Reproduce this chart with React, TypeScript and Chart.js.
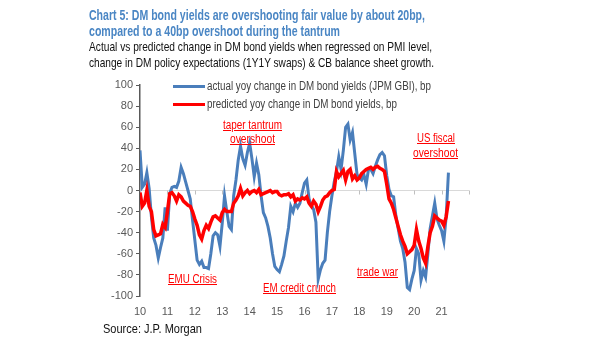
import React, { useEffect, useLayoutEffect, useRef } from "react";
import { Chart, registerables } from "chart.js";

Chart.register(...registerables);

// ---------- DATA (monthly, starting Jan 2010) ----------
const START_YEAR = 2010;

const actualYoy = [
  38, 3, 6, 17, 2, -25, -45, -52, -64, -54,
  -45, -16, -38, -3, 3, 4, 3, 9, 22, 16,
  8, 0, -8, -28, -47, -66, -70, -67, -73, -73,
  -74, -60, -43, -40, -42, -53, -31, -5, -20, -34,
  -37, -5, 10, 29, 42, 30, 24, 36, 45, 30,
  13, 26, 15, -5, -21, -26, -34, -45, -60, -72,
  -75, -77, -70, -62, -48, -35, -15, -20, -12, -16,
  -12, -2, 7, 10, -8, -14, -18, -30, -84, -75,
  -69, -66, -40, -20, -5, 8, 18, 32, 20, 38,
  60, 63, 48, 55, 35, 15, 12, 10, 15, 6,
  20, 20, 16, 23, 29, 34, 36, 33, 14, 1,
  -5, -6, -24, -36, -48, -55, -68, -92, -94, -84,
  -76, -55, -60, -85, -76, -82, -60, -36, -24, -12,
  -27, -33, -38, -48, -25, 17,
];

const predictedYoy = [
  -2, -15, -12, 0, -15, -20, -37, -43, -42, -41,
  -32, -35, -20, -3, -2, -5, -10, -4, -6, -10,
  -12, -14, -15, -20, -27, -33, -42, -46, -38, -33,
  -36, -30, -25, -24, -26, -28, -21, -18, -20, -20,
  -20, -12, -9, -5, 2, -5, -2, 0, -3, -1,
  0, -2, 1, -4, -3, -2, -1, 0, -2, -1,
  -1, -4, -5, -4, -4, -3, -6, -4, -10, -8,
  -9, -7, -8, -6, -12, -15, -10, -13, -20, -15,
  -9, -6, -5, -2, 0, 1, 18, 13, 16, 19,
  10, 18, 20, 11, 14, 10, 12, 16, 18, 20,
  21, 22, 20, 22, 23, 21, 20, 18, 6, -8,
  -12, -18, -26, -34, -42, -48, -53, -60, -58, -56,
  -52, -37, -48, -55, -64, -69, -53, -40, -34, -24,
  -26, -28, -29, -33, -25, -10,
];

const xTickYears = [2010, 2011, 2012, 2013, 2014, 2015, 2016, 2017, 2018, 2019, 2020, 2021];
const yTickValues = [-100, -80, -60, -40, -20, 0, 20, 40, 60, 80, 100];

const seriesLabels = [
  "actual yoy change in DM bond yields (JPM GBI), bp",
  "predicted yoy change in DM bond yields, bp",
];

const titleLines = [
  "Chart 5: DM bond yields are overshooting fair value by about 20bp,",
  "compared to a 40bp overshoot during the tantrum",
];
const subtitleLines = [
  "Actual vs predicted change in DM bond yields when regressed on PMI level,",
  "change in DM policy expectations (1Y1Y swaps) & CB balance sheet growth.",
];
const sourceText = "Source: J.P. Morgan";

// ---------- STYLE ----------
const FONT = '"Liberation Sans", Arial, Helvetica, sans-serif';
const BLUE = "#4a7ebb";
const RED = "#ff0000";
const TITLE_BLUE = "#4a86c4";
const AXIS_GRAY = "#595959";

type FitProps = {
  text: string;
  x: number;
  cy: number;
  w: number;
  size: number;
  color: string;
  bold?: boolean;
  underline?: boolean;
  center?: boolean;
};

function FitText({ text, x, cy, w, size, color, bold, underline, center }: FitProps) {
  const ref = useRef<HTMLSpanElement>(null);
  useLayoutEffect(() => {
    const el = ref.current;
    if (!el) return;
    el.style.transform = "none";
    const natural = el.getBoundingClientRect().width;
    if (natural > 0) el.style.transform = `scaleX(${w / natural})`;
  }, [text, w, size]);
  const lh = Math.round(size * 1.2);
  return (
    <span
      ref={ref}
      style={{
        position: "absolute",
        left: center ? x - w / 2 : x,
        top: cy - lh / 2,
        whiteSpace: "nowrap",
        fontFamily: FONT,
        fontSize: size,
        lineHeight: `${lh}px`,
        fontWeight: bold ? "bold" : "normal",
        color,
        textDecoration: underline ? "underline" : "none",
        transformOrigin: "left center",
      }}
    >
      {text}
    </span>
  );
}

const zeroTicks = {
  id: "zeroTicks",
  beforeDatasetsDraw(chart: any) {
    const xs = chart.scales.x;
    const ys = chart.scales.y;
    const ctx = chart.ctx;
    const y0 = ys.getPixelForValue(0);
    ctx.save();
    ctx.strokeStyle = "#bfbfbf";
    ctx.lineWidth = 1;
    for (let yr = xs.min; yr <= xs.max; yr++) {
      const px = Math.round(xs.getPixelForValue(yr)) + 0.5;
      ctx.beginPath();
      ctx.moveTo(px, y0);
      ctx.lineTo(px, y0 + 4);
      ctx.stroke();
    }
    ctx.restore();
  },
};

export default function App() {
  const canvasRef = useRef<HTMLCanvasElement>(null);

  useEffect(() => {
    const canvas = canvasRef.current;
    if (!canvas) return;
    const toPoints = (arr: number[]) => arr.map((v, i) => ({ x: START_YEAR + i / 12, y: v }));
    const chart = new Chart(canvas, {
      type: "line",
      data: {
        datasets: [
          {
            label: seriesLabels[0],
            data: toPoints(actualYoy),
            borderColor: BLUE,
            backgroundColor: BLUE,
            borderWidth: 3,
            pointRadius: 0,
            tension: 0,
            order: 2,
          },
          {
            label: seriesLabels[1],
            data: toPoints(predictedYoy),
            borderColor: RED,
            backgroundColor: RED,
            borderWidth: 3.5,
            pointRadius: 0,
            tension: 0,
            order: 1,
          },
        ],
      },
      options: {
        animation: false,
        responsive: false,
        events: [],
        layout: { padding: { left: 0, top: 85, right: 136, bottom: 0 } },
        plugins: { legend: { display: false }, tooltip: { enabled: false } },
        scales: {
          x: {
            type: "linear",
            min: 2010,
            max: 2022,
            afterBuildTicks: (s: any) => {
              s.ticks = xTickYears.map((v) => ({ value: v }));
            },
            ticks: {
              callback: (v: any) => String(v).slice(2),
              color: AXIS_GRAY,
              font: { family: FONT, size: 11 },
              padding: 9,
              maxRotation: 0,
              autoSkip: false,
            },
            grid: { display: false, drawTicks: false },
            border: { display: false },
            afterFit: (s: any) => {
              s.height = 45;
            },
          },
          y: {
            min: -100,
            max: 100,
            afterBuildTicks: (s: any) => {
              s.ticks = yTickValues.map((v) => ({ value: v }));
            },
            ticks: {
              color: AXIS_GRAY,
              font: { family: FONT, size: 11 },
              padding: 3,
            },
            grid: {
              color: (c: any) => (c.tick && c.tick.value === 0 ? "#d9d9d9" : "rgba(0,0,0,0)"),
              tickColor: AXIS_GRAY,
              tickLength: 4,
              lineWidth: 1,
            },
            border: { color: AXIS_GRAY, width: 1.5 },
            afterFit: (s: any) => {
              s.width = 140;
            },
          },
        },
      },
      plugins: [zeroTicks],
    });
    return () => chart.destroy();
  }, []);

  return (
    <div
      style={{
        position: "absolute",
        left: 0,
        top: 0,
        width: 605,
        height: 341,
        background: "#ffffff",
        overflow: "hidden",
      }}
    >
      <canvas
        ref={canvasRef}
        width={605}
        height={341}
        style={{ position: "absolute", left: 0, top: 0, width: 605, height: 341 }}
      />
      <FitText text={titleLines[0]} x={89} cy={15} w={336} size={15} color={TITLE_BLUE} bold />
      <FitText text={titleLines[1]} x={89} cy={31} w={251} size={15} color={TITLE_BLUE} bold />
      <FitText text={subtitleLines[0]} x={89} cy={47} w={343} size={13} color="#111111" />
      <FitText text={subtitleLines[1]} x={89} cy={63} w={345} size={13} color="#111111" />

      {/* legend */}
      <div style={{ position: "absolute", left: 173, top: 84.5, width: 32, height: 3, background: BLUE }} />
      <div style={{ position: "absolute", left: 173, top: 102.5, width: 32, height: 3.5, background: RED }} />
      <FitText text={seriesLabels[0]} x={207} cy={86} w={224} size={12} color="#404040" />
      <FitText text={seriesLabels[1]} x={207} cy={104} w={190} size={12} color="#404040" />

      {/* annotations */}
      <FitText text="taper tantrum" x={252} cy={125} w={59} size={12.5} color={RED} underline center />
      <FitText text="overshoot" x={252} cy={139} w={45} size={12.5} color={RED} underline center />
      <FitText text="EMU Crisis" x={192} cy={279} w={49} size={12.5} color={RED} underline center />
      <FitText text="EM credit crunch" x={299} cy={288} w={73} size={12.5} color={RED} underline center />
      <FitText text="trade war" x={377} cy={272} w={41} size={12.5} color={RED} underline center />
      <FitText text="US fiscal" x={436} cy={138} w={38} size={12.5} color={RED} underline center />
      <FitText text="overshoot" x={435} cy={153} w={45} size={12.5} color={RED} underline center />

      <FitText text={sourceText} x={103} cy={329} w={99} size={13.5} color="#111111" />
    </div>
  );
}
